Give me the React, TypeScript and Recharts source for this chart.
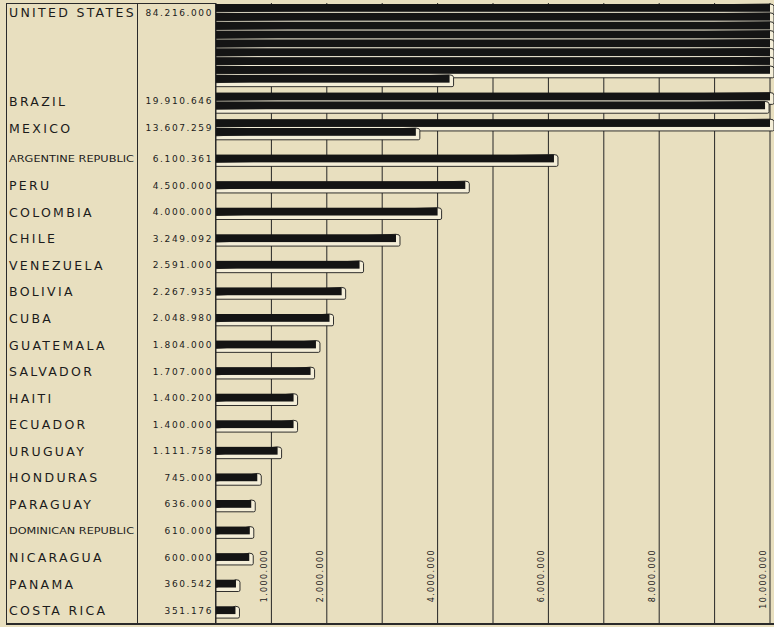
import { Bar, BarChart, CartesianGrid, XAxis, YAxis } from "recharts";

const countries = [
  "UNITED STATES",
  "BRAZIL",
  "MEXICO",
  "ARGENTINE REPUBLIC",
  "PERU",
  "COLOMBIA",
  "CHILE",
  "VENEZUELA",
  "BOLIVIA",
  "CUBA",
  "GUATEMALA",
  "SALVADOR",
  "HAITI",
  "ECUADOR",
  "URUGUAY",
  "HONDURAS",
  "PARAGUAY",
  "DOMINICAN REPUBLIC",
  "NICARAGUA",
  "PANAMA",
  "COSTA RICA",
];

const populations = [
  84216000, 19910646, 13607259, 6100361, 4500000, 4000000, 3249092, 2591000,
  2267935, 2048980, 1804000, 1707000, 1400200, 1400000, 1111758, 745000,
  636000, 610000, 600000, 360542, 351176,
];

const gridTicks = [0, 1e6, 2e6, 3e6, 4e6, 5e6, 6e6, 7e6, 8e6, 9e6, 10e6];
const labeledTicks = [1e6, 2e6, 4e6, 6e6, 8e6, 10e6];

// one strip of bar = 10 million, longer values wrap onto the next strip
const STRIP = 10000000;

const fmt = (n: number) => String(n).replace(/\B(?=(\d{3})+(?!\d))/g, ".");

type Row = { key: string; value: number | null; name?: string; pop?: number; multi?: boolean };

const rows: Row[] = [];
countries.forEach((name, i) => {
  const pop = populations[i];
  const strips = Math.ceil(pop / STRIP);
  if (i > 0) {
    const gap = strips > 1 ? 1 : 2;
    for (let g = 0; g < gap; g++) rows.push({ key: `r${rows.length}`, value: null });
  }
  let left = pop;
  for (let s = 0; s < strips; s++) {
    const row: Row = { key: `r${rows.length}`, value: Math.min(STRIP, left) };
    if (s === 0) {
      row.name = name;
      row.pop = pop;
      row.multi = strips > 1;
    }
    rows.push(row);
    left -= STRIP;
  }
});
rows.push({ key: `r${rows.length}`, value: null });

const rowByKey: Record<string, Row> = {};
rows.forEach((r) => (rowByKey[r.key] = r));

const TOP = 3;
const BOTTOM = 623;
const band = (BOTTOM - TOP) / rows.length;
const INK = "#1b1b1b";

const NameTick = (props: any) => {
  const { y, payload } = props;
  const row = rowByKey[payload.value];
  if (!row || !row.name) return null;
  const ty = y + (row.multi ? band / 2 : 0) + 1;
  const long = row.name.length > 14;
  return (
    <g>
      <text
        x={9}
        y={ty}
        dominantBaseline="central"
        fill={INK}
        fontFamily="DejaVu Sans"
        fontSize={long ? 9 : 12.5}
        letterSpacing={long ? 0 : 2.3}
        textLength={long ? 125 : undefined}
        lengthAdjust={long ? "spacingAndGlyphs" : undefined}
      >
        {row.name}
      </text>
      <text
        x={213}
        y={ty}
        dominantBaseline="central"
        textAnchor="end"
        fill={INK}
        fontFamily="DejaVu Sans"
        fontSize={9}
        letterSpacing={1.6}
      >
        {fmt(row.pop!)}
      </text>
    </g>
  );
};

const ScaleTick = (props: any) => {
  const { x, payload } = props;
  if (!labeledTicks.includes(payload.value)) return null;
  const tx = x - 4;
  const ty = 549;
  return (
    <text
      x={tx}
      y={ty}
      transform={`rotate(-90, ${tx}, ${ty})`}
      textAnchor="end"
      fill={INK}
      fontFamily="DejaVu Sans"
      fontSize={8}
      letterSpacing={1.4}
    >
      {fmt(payload.value)}
    </text>
  );
};

const StripShape = (props: any) => {
  const { x, y, width, height } = props;
  if (!width || width <= 0) return null;
  const r = x + width;
  const b = y + height;
  const d = `M${x},${b} L${x},${b + 4} L${r + 2.5},${b + 4} Q${r + 4},${b + 4} ${r + 4},${b + 2.5} L${r + 4},${y + 2.5} Q${r + 4},${y} ${r},${y} Z`;
  return (
    <g>
      <path d={d} fill="#f4eed8" stroke={INK} strokeWidth={0.9} />
      <rect x={x} y={y} width={width} height={height} fill="#141414" />
    </g>
  );
};

const line = (style: React.CSSProperties) => (
  <div style={{ position: "absolute", background: "#2a2a2a", ...style }} />
);

export default function App() {
  return (
    <div
      style={{
        position: "absolute",
        left: 0,
        top: 0,
        width: 774,
        height: 627,
        background: "#e8dfbf",
        overflow: "hidden",
      }}
    >
      <BarChart
        width={774}
        height={627}
        data={rows}
        layout="vertical"
        margin={{ top: TOP, right: 4, bottom: 0, left: 0 }}
        barSize={7.8}
      >
        <CartesianGrid horizontal={false} stroke="#262626" strokeWidth={1} />
        <XAxis
          type="number"
          domain={[0, 10e6]}
          ticks={gridTicks}
          interval={0}
          height={4}
          axisLine={false}
          tickLine={false}
          tick={ScaleTick}
        />
        <YAxis
          type="category"
          dataKey="key"
          width={216}
          interval={0}
          axisLine={false}
          tickLine={false}
          tick={NameTick}
        />
        <Bar dataKey="value" shape={StripShape} isAnimationActive={false} />
      </BarChart>
      {line({ left: 6, top: 3, width: 1, height: 621 })}
      {line({ left: 137, top: 3, width: 1, height: 621 })}
      {line({ left: 215, top: 3, width: 1, height: 621 })}
      {line({ left: 6, top: 3, width: 210, height: 1 })}
      {line({ left: 6, top: 623, width: 768, height: 2 })}
    </div>
  );
}
